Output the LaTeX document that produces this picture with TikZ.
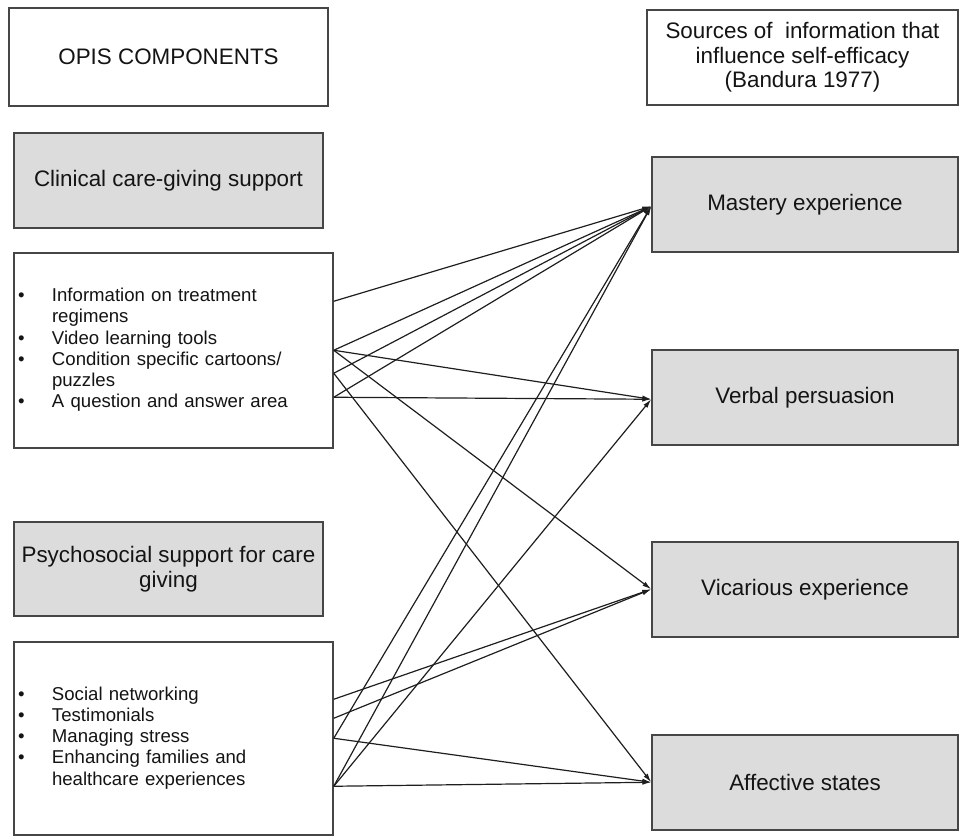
\documentclass[tikz,border=0pt]{standalone}
\usepackage{fontspec}
\setmainfont{Liberation Sans}
\usetikzlibrary{arrows.meta}
\definecolor{boxgray}{RGB}{220,220,220}
\definecolor{edgegray}{RGB}{70,70,70}
\definecolor{inkcol}{RGB}{20,20,20}
\definecolor{linkcol}{RGB}{30,30,30}

\begin{document}
\begin{tikzpicture}[x=1pt,y=-1pt,
  every node/.style={text=inkcol},
  plainbox/.style={draw=edgegray, line width=1.5pt, fill=white, inner sep=0pt,
    align=center, font=\fontsize{22.4}{24.5}\selectfont},
  headbox/.style={plainbox, fill=boxgray},
  listbox/.style={draw=edgegray, line width=1.5pt, fill=white, inner xsep=4pt,
    inner ysep=0pt, align=left, font=\fontsize{18.6}{21.2}\selectfont},
  link/.style={draw=linkcol, line width=1.2pt, -{Latex[length=9pt,width=5pt]}}
]
\useasboundingbox (0,0) rectangle (966,839);

% left column: OPIS components
\node[plainbox, minimum width=319, minimum height=98] (opis) at (168.5,57) {OPIS COMPONENTS};
\node[headbox, minimum width=309, minimum height=95] (clinical) at (168.5,180.5) {Clinical care-giving support};
\node[listbox, minimum width=319, minimum height=195, text width=311] (list1) at (173.5,350.5)
  {\begin{tabular}{@{}p{34pt}@{}l@{}}
   \textbullet & Information on treatment\\
               & regimens\\
   \textbullet & Video learning tools\\
   \textbullet & Condition specific cartoons/\\
               & puzzles\\
   \textbullet & A question and answer area
   \end{tabular}};
\node[headbox, minimum width=309, minimum height=94] (psycho) at (168.5,569) {Psychosocial support for care\\giving};
\node[listbox, minimum width=319, minimum height=193, text width=311] (list2) at (173.5,738.5)
  {\begin{tabular}{@{}p{34pt}@{}l@{}}
   \textbullet & Social networking\\
   \textbullet & Testimonials\\
   \textbullet & Managing stress\\
   \textbullet & Enhancing families and\\
               & healthcare experiences
   \end{tabular}};

% right column: sources of self-efficacy information
\node[plainbox, minimum width=311, minimum height=95] (sources) at (802.5,57.5)
  {Sources of\ \ information that\\influence self-efficacy\\(Bandura 1977)};
\node[headbox, minimum width=306, minimum height=95] (mastery) at (805,204.5) {Mastery experience};
\node[headbox, minimum width=306, minimum height=95] (verbal) at (805,397.5) {Verbal persuasion};
\node[headbox, minimum width=306, minimum height=95] (vicarious) at (805,589.5) {Vicarious experience};
\node[headbox, minimum width=306, minimum height=95] (affective) at (805,782.5) {Affective states};

% connector ends on the list boxes
\path (list1.north east) ++(0,49)  coordinate (a1);
\path (list1.north east) ++(0,98)  coordinate (a2);
\path (list1.north east) ++(0,121) coordinate (a3);
\path (list1.north east) ++(0,145) coordinate (a4);
\path (list2.north east) ++(0,58)  coordinate (b1);
\path (list2.north east) ++(0,77)  coordinate (b2);
\path (list2.north east) ++(0,97)  coordinate (b3);
\path (list2.north east) ++(0,145) coordinate (b4);

% connector ends on the source boxes
\path (mastery.north west)   ++(0,50) coordinate (tM);
\path (verbal.north west)    ++(0,50) coordinate (tV);
\path (vicarious.north west) ++(0,48) coordinate (tVi);
\path (affective.north west) ++(0,48) coordinate (tA);

% clinical care-giving links
\draw[link] (a1) -- (tM);
\draw[link] (a2) -- (tM);
\draw[link] (a2) -- (tV);
\draw[link] (a2) -- (tVi);
\draw[link] (a3) -- (tM);
\draw[link] (a3) -- (tA);
\draw[link] (a4) -- (tM);
\draw[link] (a4) -- (tV);

% psychosocial support links
\draw[link] (b1) -- (tVi);
\draw[link] (b2) -- (tVi);
\draw[link] (b3) -- (tM);
\draw[link] (b3) -- (tA);
\draw[link] (b4) -- (tM);
\draw[link] (b4) -- (tV);
\draw[link] (b4) -- (tA);
\end{tikzpicture}
\end{document}
